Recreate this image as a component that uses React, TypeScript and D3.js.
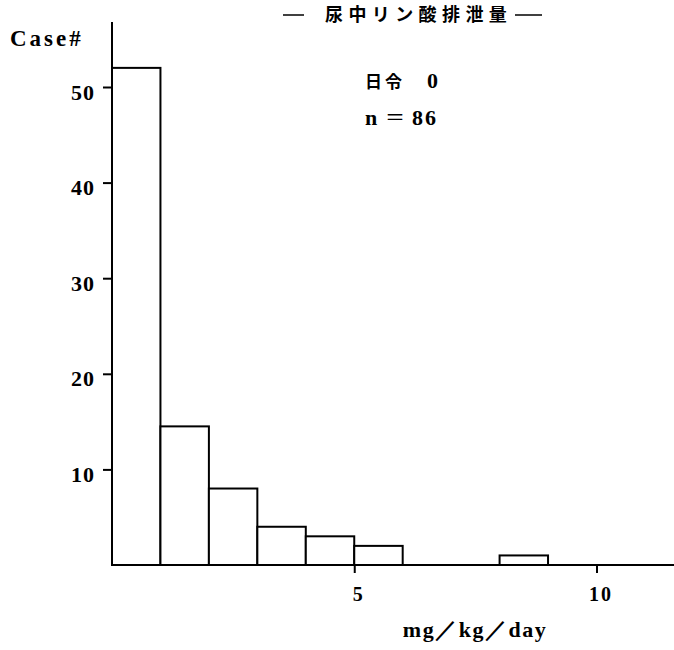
import { useEffect, useRef } from 'react'
import * as d3 from 'd3'

// histogram bins (lower edge, mg/kg/day) and case counts
const binStarts = [0, 1, 2, 3, 4, 5, 8]
const binWidth = 1
const counts = [52, 14.5, 8, 4, 3, 2, 1]
const yTicks = [10, 20, 30, 40, 50]
const xTicks = [5, 10]
const title = '尿中リン酸排泄量'
const ageLabel = '日令'
const ageValue = '0'
const nLabel = 'n'
const nValue = '86'
const yLabel = 'Case#'
const xLabel = 'mg／kg／day'

const W = 674
const H = 650
const serif = '"Liberation Serif", "DejaVu Serif", serif'
const cjk = '"Noto Sans CJK JP", sans-serif'

function App() {
  const svgRef = useRef<SVGSVGElement>(null)

  useEffect(() => {
    if (!svgRef.current) return
    const svg = d3.select(svgRef.current)
    svg.selectAll('*').remove()

    const x = d3.scaleLinear().domain([0, 11.6]).range([112, 674])
    const y = d3.scaleLinear().domain([0, 50]).range([565, 87])

    svg.append('rect').attr('width', W).attr('height', H).attr('fill', '#fff')

    // bars
    svg.selectAll('.bar')
      .data(binStarts.map((s, i) => ({ s, c: counts[i] })))
      .enter()
      .append('rect')
      .attr('class', 'bar')
      .attr('x', d => x(d.s))
      .attr('y', d => y(d.c))
      .attr('width', x(binWidth) - x(0))
      .attr('height', d => y(0) - y(d.c))
      .attr('fill', '#fff')
      .attr('stroke', '#000')
      .attr('stroke-width', 2)

    // y axis
    const yAxis = svg.append('g')
      .attr('transform', `translate(${x(0)},0)`)
      .call(d3.axisLeft(y).tickValues(yTicks).tickSize(9).tickPadding(8))
    yAxis.select('.domain').remove()
    yAxis.selectAll('line').attr('stroke', '#000').attr('stroke-width', 2)
    yAxis.selectAll('text')
      .attr('dy', '0.55em')
      .style('font-family', serif)
      .style('font-size', '22px')
      .style('font-weight', 'bold')
      .attr('letter-spacing', 1)
      .attr('fill', '#000')
    svg.append('line')
      .attr('x1', x(0)).attr('x2', x(0))
      .attr('y1', 22).attr('y2', y(0))
      .attr('stroke', '#000').attr('stroke-width', 2)

    // x axis
    const xAxis = svg.append('g')
      .attr('transform', `translate(0,${y(0)})`)
      .call(d3.axisBottom(x).tickValues(xTicks).tickSize(8).tickPadding(14))
    xAxis.select('.domain').remove()
    xAxis.selectAll('line').attr('stroke', '#000').attr('stroke-width', 2)
    xAxis.selectAll('text')
      .attr('dx', '0.2em')
      .style('font-family', serif)
      .style('font-size', '20px')
      .style('font-weight', 'bold')
      .attr('letter-spacing', 2)
      .attr('fill', '#000')
    svg.append('line')
      .attr('x1', x(0)).attr('x2', W)
      .attr('y1', y(0)).attr('y2', y(0))
      .attr('stroke', '#000').attr('stroke-width', 2)

    // axis labels
    svg.append('text')
      .attr('x', 10).attr('y', 46)
      .style('font-family', serif).style('font-size', '23px').style('font-weight', 'bold')
      .attr('letter-spacing', 3)
      .text(yLabel)

    svg.append('text')
      .attr('x', 475).attr('y', 637)
      .attr('text-anchor', 'middle')
      .style('font-family', serif).style('font-size', '22px').style('font-weight', 'bold')
      .attr('letter-spacing', 1.5)
      .text(xLabel)

    // title with dashes either side
    svg.append('text')
      .attr('x', 325).attr('y', 21)
      .style('font-family', cjk).style('font-size', '18px').style('font-weight', 'bold')
      .attr('letter-spacing', 5.4)
      .text(title)
    svg.append('line')
      .attr('x1', 283).attr('x2', 304).attr('y1', 15).attr('y2', 15)
      .attr('stroke', '#000').attr('stroke-width', 1.5)
    svg.append('line')
      .attr('x1', 515).attr('x2', 542).attr('y1', 15).attr('y2', 15)
      .attr('stroke', '#000').attr('stroke-width', 1.5)

    // notes
    const age = svg.append('text').attr('x', 365).attr('y', 88)
    age.append('tspan')
      .style('font-family', cjk).style('font-size', '17px').style('font-weight', 'bold')
      .attr('letter-spacing', 3)
      .text(ageLabel)
    age.append('tspan')
      .attr('x', 427)
      .style('font-family', serif).style('font-size', '22px').style('font-weight', 'bold')
      .text(ageValue)

    const nText = svg.append('text').attr('x', 365).attr('y', 125)
      .style('font-family', serif).style('font-size', '22px').style('font-weight', 'bold')
    nText.append('tspan').text(nLabel)
    nText.append('tspan')
      .attr('x', 385)
      .style('font-family', cjk).style('font-size', '20px').style('font-weight', 'normal')
      .text('＝')
    nText.append('tspan')
      .attr('x', 412)
      .attr('letter-spacing', 2)
      .text(nValue)
  }, [])

  return (
    <svg
      ref={svgRef}
      width={W}
      height={H}
      style={{ position: 'absolute', left: 0, top: 0 }}
    />
  )
}

export default App
